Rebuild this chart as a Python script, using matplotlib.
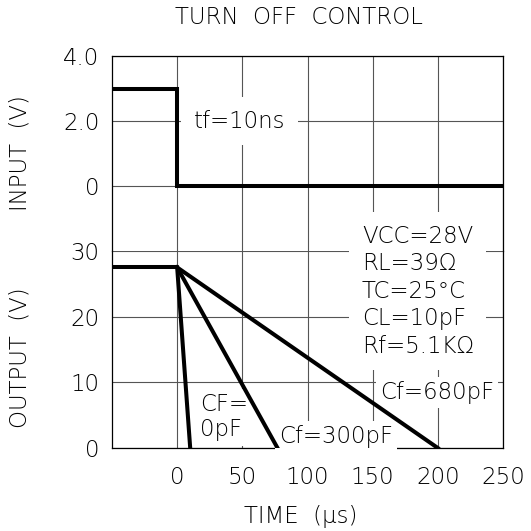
import numpy as np
import matplotlib
matplotlib.use('Agg')
import matplotlib.pyplot as plt

plt.rcParams['font.family'] = ['DejaVu Sans']
plt.rcParams['font.size'] = 16.5
plt.rcParams['font.weight'] = 'light'
plt.rcParams['axes.labelweight'] = 'light'

### data
t_input = [-50, 0, 0, 250]
v_input = [3.0, 3.0, 0.0, 0.0]

t_hold = [-50, 0]
v_hold = [27.5, 27.5]
v_start = 27.5
t_fall = {'0pF': 10, '300pF': 77, '680pF': 200}

x_ticks = [0, 50, 100, 150, 200, 250]
in_ticks = [0, 2, 4]
in_labels = ['0', '2.0', '4.0']
out_ticks = [0, 10, 20, 30]

### layout (pixels of a 531 image)
W = 531.0
left, right = 112, 503
top, mid, bot = 56, 251, 448

fig = plt.figure(figsize=(5.31, 5.31), dpi=100)
ax_in = fig.add_axes([left / W, 1 - mid / W, (right - left) / W, (mid - top) / W])
ax_out = fig.add_axes([left / W, 1 - bot / W, (right - left) / W, (bot - mid) / W])

gridkw = dict(color='#555555', linewidth=0.8)
for ax in (ax_in, ax_out):
  ax.set_xlim(-50, 250)
  ax.set_xticks(x_ticks)
  ax.tick_params(length=0, pad=9)
  ax.grid(True, **gridkw)
  ax.set_axisbelow(True)
  for s in ax.spines.values():
    s.set_linewidth(0.9)

ax_in.set_ylim(-2, 4)
ax_in.set_yticks(in_ticks)
ax_in.set_yticklabels(in_labels)
ax_in.set_xticklabels([])
ax_in.spines['bottom'].set_visible(False)

ax_out.set_ylim(0, 30)
ax_out.set_yticks(out_ticks)
ax_out.tick_params(axis='x', pad=13)
ax_out.spines['top'].set_visible(False)

lw = 2.9
ax_in.plot(t_input, v_input, color='black', lw=lw, solid_joinstyle='miter', zorder=4)
ax_out.plot(t_hold, v_hold, color='black', lw=lw, zorder=4, solid_capstyle='butt')
for name, tf in t_fall.items():
  ax_out.plot([0, tf], [v_start, 0], color='black', lw=lw, zorder=4)

### labels
ax_in.set_ylabel('INPUT  (V)', fontweight='light')
ax_in.yaxis.set_label_coords(-0.205, 0.5)
ax_out.set_ylabel('OUTPUT  (V)', fontweight='light')
ax_out.yaxis.set_label_coords(-0.205, 0.46)
ax_out.set_xlabel('TIME  (\u03bcs)', fontweight='light')
ax_out.xaxis.set_label_coords(0.483, -0.29)
fig.text(298.5 / W, 1 - 18 / W, 'TURN  OFF  CONTROL', ha='center', va='center')

white = dict(facecolor='white', edgecolor='none', pad=3)
ax_in.text(12.9, 2.0, 'tf=10ns', ha='left', va='center', bbox=dict(facecolor='white', edgecolor='none', pad=9), zorder=3)
ax_out.text(141.8, 23.9, 'VCC=28V\nRL=39\u03a9\nTC=25\u00b0C\nCL=10pF\nRf=5.1K\u03a9',
            ha='left', va='center', linespacing=1.25, clip_on=False,
            bbox=dict(facecolor='white', edgecolor='none', pad=9), zorder=3)
ax_out.text(155.7, 8.4, 'Cf=680pF', ha='left', va='center', bbox=white, zorder=3)
ax_out.text(17.5, 4.7, 'CF=\n0pF', ha='left', va='center', linespacing=1.15, bbox=white, zorder=3)
ax_out.text(78, 1.8, 'Cf=300pF', ha='left', va='center', bbox=white, zorder=3)

plt.savefig('out.png', dpi=100)
